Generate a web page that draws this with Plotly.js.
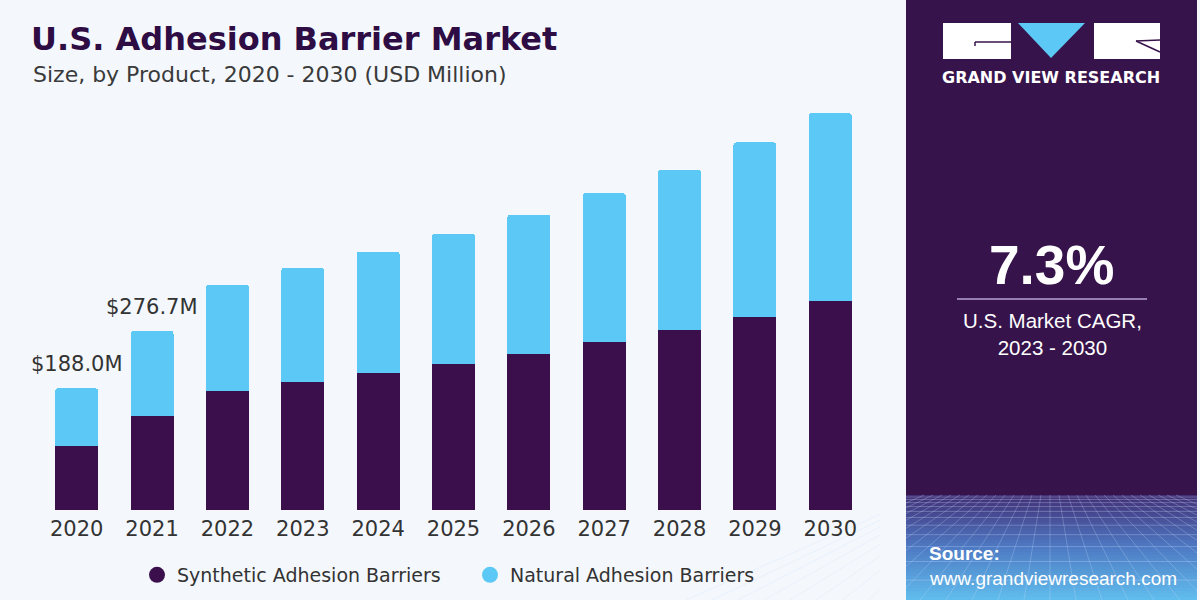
<!DOCTYPE html>
<html>
<head>
<meta charset="utf-8">
<script src="https://cdn.plot.ly/plotly-3.0.1.min.js"></script>
<style>html,body{margin:0;padding:0;background:#f4f8fc;}#chart{width:1200px;height:600px;}</style>
</head>
<body>
<div id="chart"></div>
<script>
// ---- data ----
const years = ['2020','2021','2022','2023','2024','2025','2026','2027','2028','2029','2030'];
const synthetic = [98.6, 146.0, 183.5, 197.5, 211.0, 226.0, 241.0, 260.0, 278.0, 298.0, 322.5];
const natural   = [89.4, 130.7, 164.5, 176.5, 188.0, 201.0, 215.5, 229.5, 248.0, 270.0, 290.5];
const seriesNames = ['Synthetic Adhesion Barriers', 'Natural Adhesion Barriers'];
const labelYears = ['2020', '2021'];
const labelTexts = ['$188.0M', '$276.7M'];
const cagrValue = '7.3%';
const cagrText = 'U.S. Market CAGR,<br>2023 - 2030';

(function(){
// ---- layout helpers (pixel -> paper) ----
const W = 1200, H = 600, ML = 39, MR = 332, MT = 100, MB = 90;
const PW = W - ML - MR, PH = H - MT - MB;
const X = px => (px - ML) / PW;
const Y = py => (H - MB - py) / PH;

const cSyn = '#3a0f4c', cNat = '#5cc8f5';
const panel = '#37134b';
const FONT = 'DejaVu Sans, sans-serif';
const FONT2 = 'Liberation Sans, Arial, sans-serif';

const traces = [
  {type:'bar', x: years, y: synthetic, name: seriesNames[0], marker:{color:cSyn}, showlegend:false, hoverinfo:'x+y'},
  {type:'bar', x: years, y: natural, name: seriesNames[1], marker:{color:cNat}, showlegend:false, hoverinfo:'x+y'},
  {type:'scatter', mode:'markers', x:[null], y:[null], name: seriesNames[0], marker:{color:cSyn, size:17, symbol:'circle'}},
  {type:'scatter', mode:'markers', x:[null], y:[null], name: seriesNames[1], marker:{color:cNat, size:17, symbol:'circle'}}
];

const shapes = [];
function rect(x0,y0,x1,y1,fill,extra){ shapes.push(Object.assign({type:'rect', xref:'paper', yref:'paper', x0:X(x0), x1:X(x1), y0:Y(y1), y1:Y(y0), fillcolor:fill, line:{width:0}, layer:'below'}, extra||{})); }
function line(x0,y0,x1,y1,color,w,extra){ shapes.push(Object.assign({type:'line', xref:'paper', yref:'paper', x0:X(x0), x1:X(x1), y0:Y(y0), y1:Y(y1), line:{color:color, width:w}, layer:'above'}, extra||{})); }

// right panel
rect(906, 0, 1197, 600, panel);
// bottom gradient band
const g0 = [66,48,118], g1 = [78,122,196], g2 = [96,188,236];
const gTop = 495, gBot = 600, steps = 35;
for (let i = 0; i < steps; i++) {
  const t = i / (steps - 1);
  let c;
  if (t < 0.5) { const u = t/0.5; c = g0.map((v,k)=>Math.round(v + (g1[k]-v)*u)); }
  else { const u = (t-0.5)/0.5; c = g1.map((v,k)=>Math.round(v + (g2[k]-v)*u)); }
  const ya = gTop + (gBot-gTop)*i/steps, yb = gTop + (gBot-gTop)*(i+1)/steps + 0.6;
  rect(906, ya, 1197, yb, `rgb(${c[0]},${c[1]},${c[2]})`);
}
// perspective grid lines
let gy = 497, gs = 2;
while (gy < 600) { line(906, gy, 1197, gy, 'rgba(200,220,255,0.3)', 1, {layer:'below'}); gs *= 1.25; gy += gs; }
const vx = 1050;
for (let k = -14; k <= 14; k++) {
  const xb = vx + k*26, xt = vx + k*9;
  line(xt, 495, xb, 600, 'rgba(200,220,255,0.27)', 1, {layer:'below'});
}
// cover grid lines that spill outside panel
rect(1197, 480, 1200, 600, '#f4f8fc', {layer:'below'});
rect(880, 480, 906, 600, '#f4f8fc', {layer:'below'});

// logo
rect(943, 23, 1011, 59, '#ffffff', {layer:'above'});
rect(1094, 23, 1160, 59, '#ffffff', {layer:'above'});
shapes.push({type:'path', xref:'paper', yref:'paper', path:`M ${X(1018)},${Y(23)} L ${X(1085)},${Y(23)} L ${X(1051)},${Y(58)} Z`, fillcolor:'#5cc8f5', line:{width:0}, layer:'above'});
line(975, 42, 1011, 42, panel, 1.5);
line(975, 42, 975, 46, panel, 1.5);
line(1136, 41, 1160, 40, panel, 1.5);
line(1136, 41, 1160, 52, panel, 1.5);
// CAGR divider
line(957, 299, 1147, 299, '#b9a2d4', 1.5);

const annotations = [];
function ann(text, xpx, ypx, opts){ annotations.push(Object.assign({text:text, xref:'paper', yref:'paper', x:X(xpx), y:Y(ypx), showarrow:false, xanchor:'center', yanchor:'middle'}, opts||{})); }

ann('Size, by Product, 2020 - 2030 (USD Million)', 31, 75, {xanchor:'left', font:{family:FONT, size:22, color:'#3a3a3a'}});
ann('<b>GRAND VIEW RESEARCH</b>', 1051, 78, {font:{family:FONT, size:16, color:'#ffffff'}});
ann('<b>' + cagrValue + '</b>', 1051, 265, {font:{family:FONT2, size:55, color:'#ffffff'}});
ann(cagrText, 1052, 334, {font:{family:FONT2, size:20.5, color:'#ffffff'}});
ann('<b>Source:</b>', 927, 553, {xanchor:'left', font:{family:FONT2, size:19, color:'#ffffff'}});
ann('www.grandviewresearch.com', 927, 578, {xanchor:'left', font:{family:FONT2, size:19, color:'#ffffff'}});

// value labels on bars
labelYears.forEach((yr, i) => {
  const idx = years.indexOf(yr);
  annotations.push({text: labelTexts[i], x: idx, y: synthetic[idx] + natural[idx], xref:'x', yref:'y', showarrow:false, xanchor:'center', yanchor:'bottom', yshift:10, font:{family:FONT, size:21, color:'#333333'}});
});

const layout = {
  width: W, height: H,
  margin: {l: ML, r: MR, t: MT, b: MB, pad: 0, autoexpand: false},
  paper_bgcolor: '#f4f8fc',
  plot_bgcolor: '#f4f8fc',
  barmode: 'stack',
  bargap: 0.43,
  barcornerradius: 3,
  title: {text: '<b>U.S. Adhesion Barrier Market</b>', x: 31/W, xanchor: 'left', xref:'container', y: 1 - 39/H, yanchor: 'middle', yref:'container', font: {family: FONT, size: 32, color: '#2e0c44'}},
  xaxis: {type: 'category', range: [-0.5, 10.5], showgrid: false, zeroline: false, showline: false, ticks: '', tickfont: {family: FONT, size: 21, color: '#333333'}, ticklabelstandoff: 4, fixedrange: true, automargin: false},
  yaxis: {range: [0, 633.5], visible: false, showgrid: false, zeroline: false, fixedrange: true, automargin: false},
  legend: {orientation: 'h', traceorder: 'normal', x: X(137), xanchor: 'left', y: Y(575), yanchor: 'middle', font: {family: FONT, size: 19, color: '#333333'}, bgcolor: 'rgba(0,0,0,0)', itemwidth: 30, entrywidth: 288, entrywidthmode: 'pixels'},
  shapes: shapes,
  annotations: annotations,
  showlegend: true
};

Plotly.newPlot('chart', traces, layout, {displayModeBar: false, staticPlot: true});
})();
</script>
</body>
</html>
